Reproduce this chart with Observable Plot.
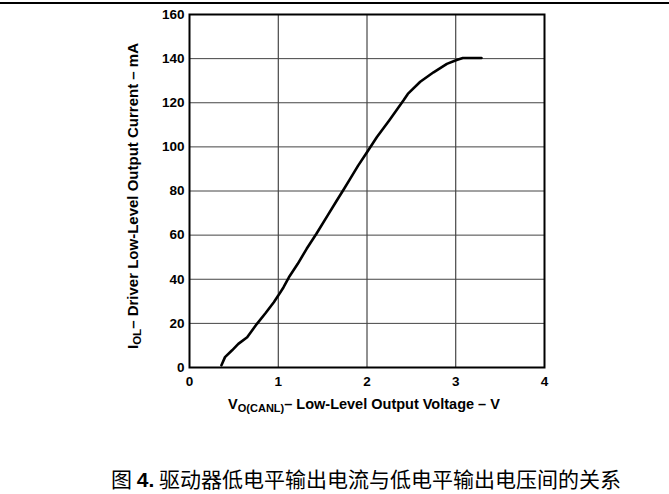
<!DOCTYPE html>
<html>
<head>
<meta charset="utf-8">
<script src="https://cdn.jsdelivr.net/npm/d3@7"></script>
<script src="https://cdn.jsdelivr.net/npm/@observablehq/plot@0.6"></script>
<style>
  html, body { margin: 0; padding: 0; background: white; }
  #wrap { position: relative; width: 669px; height: 494px; overflow: hidden; }
  #rule { position: absolute; left: 0; top: 2px; width: 669px; height: 2px; background: black; }
  #chart { position: absolute; left: 0; top: 0; }
  #caption { position: absolute; left: 366px; top: 468px; transform: translateX(-50%); font-family: "Noto Sans CJK SC", sans-serif; font-size: 21px; line-height: 21px; color: black; white-space: nowrap; }
  #caption b { font-family: "Liberation Sans", Arial, sans-serif; }
</style>
</head>
<body>
<div id="wrap">
  <div id="chart"></div>
  <div id="rule"></div>
  <div id="caption">图 <b>4.</b> 驱动器低电平输出电流与低电平输出电压间的关系</div>
</div>
<script>
// Data
const voltage = [0.36, 0.40, 0.48, 0.55, 0.65, 0.76, 0.86, 0.95, 1.00, 1.06, 1.12, 1.22, 1.32, 1.43, 1.55, 1.66, 1.73, 1.81, 1.90, 2.00, 2.11, 2.25, 2.41, 2.46, 2.48, 2.60, 2.75, 2.90, 3.01, 3.08, 3.18, 3.29];
const current = [1.0, 4.7, 7.8, 10.7, 13.7, 19.8, 24.8, 29.6, 32.6, 36.4, 40.9, 47.0, 53.8, 60.6, 68.5, 75.7, 80.2, 85.5, 91.5, 97.6, 104.4, 112.0, 121.0, 124.0, 124.8, 129.5, 133.8, 137.6, 139.4, 140.3, 140.3, 140.3];
const xTicks = [0, 1, 2, 3, 4];
const yTicks = [0, 20, 40, 60, 80, 100, 120, 140, 160];

const points = voltage.map((v, i) => ({v, i: current[i]}));

const W = 669, H = 430, mT = 14, mL = 189, mR = 125, mB = 63;

const chart = Plot.plot({
  width: W, height: H,
  marginTop: mT, marginLeft: mL, marginRight: mR, marginBottom: mB,
  style: {fontFamily: "'Liberation Sans', Arial, sans-serif", fontSize: "13.5px", fontWeight: "bold", color: "black", background: "white"},
  x: {domain: [0, 4], ticks: xTicks, tickFormat: d3.format("d"), tickSize: 0, tickPadding: 9, label: null},
  y: {domain: [0, 160], ticks: yTicks, tickFormat: d3.format("d"), tickSize: 0, tickPadding: 5, label: null},
  marks: [
    Plot.gridX(xTicks.slice(1, -1), {stroke: "#222", strokeOpacity: 1, strokeWidth: 1}),
    Plot.gridY(yTicks.slice(1, -1), {stroke: "#444", strokeOpacity: 1, strokeWidth: 1}),
    Plot.frame({stroke: "black", strokeWidth: 2}),
    Plot.line(points, {x: "v", y: "i", stroke: "black", strokeWidth: 2.6, curve: "linear"})
  ]
});
document.getElementById("chart").appendChild(chart);

// Axis titles with subscripts
const svg = d3.select(chart);
const font = "'Liberation Sans', Arial, sans-serif";
const xl = svg.append("text")
  .attr("x", 364).attr("y", 409)
  .attr("text-anchor", "middle")
  .attr("font-family", font).attr("font-weight", "bold").attr("font-size", 14.5).attr("fill", "black");
xl.append("tspan").text("V");
xl.append("tspan").attr("font-size", 11).attr("dy", 3).text("O(CANL)");
xl.append("tspan").attr("dy", -3).text("– Low-Level Output Voltage – V");

const yl = svg.append("text")
  .attr("transform", `translate(138,196) rotate(-90)`)
  .attr("text-anchor", "middle")
  .attr("font-family", font).attr("font-weight", "bold").attr("font-size", 15).attr("fill", "black");
yl.append("tspan").text("I");
yl.append("tspan").attr("font-size", 11.5).attr("dy", 3).text("OL");
yl.append("tspan").attr("dy", -3).text("– Driver Low-Level Output Current – mA");
</script>
</body>
</html>
